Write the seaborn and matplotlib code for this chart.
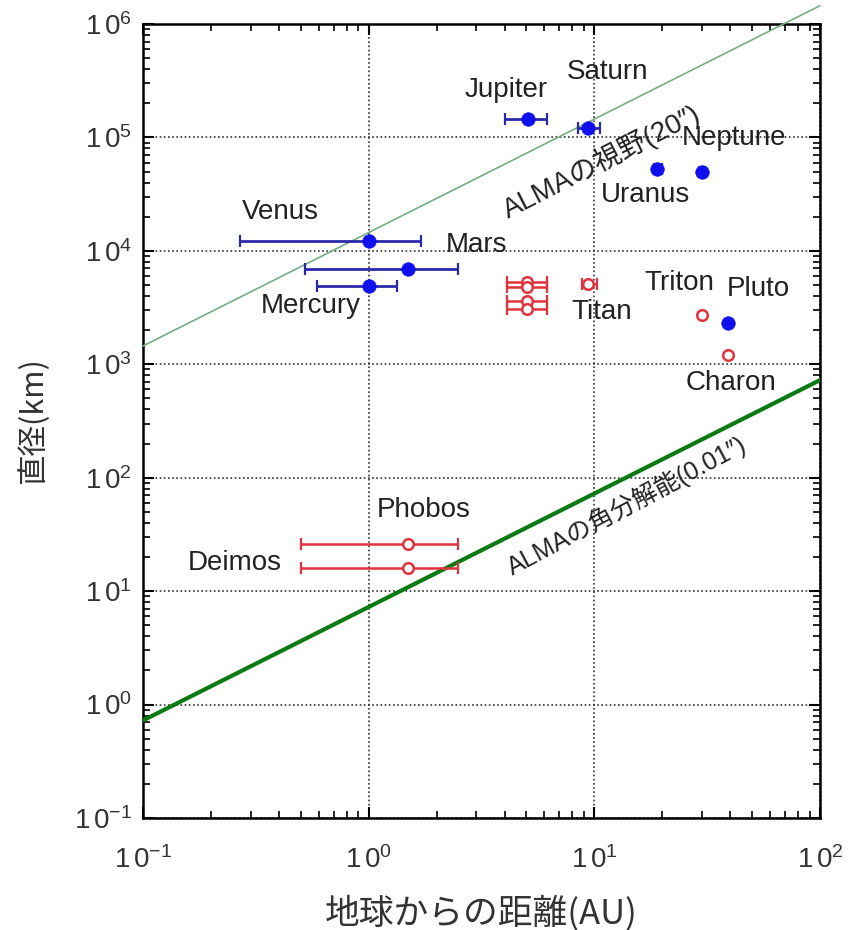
import numpy as np
import pandas as pd
import matplotlib
matplotlib.use("Agg")
import matplotlib.pyplot as plt
from matplotlib.ticker import FuncFormatter
import seaborn as sns
import warnings
warnings.filterwarnings("ignore")

# planets: distance from Earth (AU), diameter (km), distance range (AU)
planet_names = ['Mercury', 'Venus', 'Mars', 'Jupiter', 'Saturn', 'Uranus', 'Neptune', 'Pluto']
planet_dist = [1.0, 1.0, 1.5, 5.1, 9.4, 19.0, 30.0, 39.0]
planet_diam = [4900, 12200, 6900, 145000, 121000, 53000, 50000, 2300]
planet_near = [0.59, 0.27, 0.52, 4.0, 8.5, 18.3, 29.2, 39.0]
planet_far = [1.33, 1.70, 2.50, 6.2, 10.6, 20.0, 31.0, 39.0]

# satellites
moon_names = ['Io', 'Europa', 'Ganymede', 'Callisto', 'Titan', 'Triton', 'Charon', 'Phobos', 'Deimos']
moon_dist = [5.05, 5.05, 5.05, 5.05, 9.4, 30.0, 39.0, 1.5, 1.5]
moon_diam = [3600, 3100, 5300, 4800, 5150, 2700, 1200, 26, 16]
moon_near = [4.1, 4.1, 4.1, 4.1, 8.8, 30.0, 39.0, 0.5, 0.5]
moon_far = [6.2, 6.2, 6.2, 6.2, 10.3, 30.0, 39.0, 2.5, 2.5]

# ALMA lines: field of view 20" and resolution 0.01"
line_dist = [0.1, 100.0]
AU_KM = 1.496e8
FOV_ARCSEC = 20.0
RES_ARCSEC = 0.01

planets = pd.DataFrame({'name': planet_names, 'dist': planet_dist, 'diam': planet_diam,
                        'near': planet_near, 'far': planet_far})
moons = pd.DataFrame({'name': moon_names, 'dist': moon_dist, 'diam': moon_diam,
                      'near': moon_near, 'far': moon_far})
lines = pd.DataFrame({'dist': line_dist})
lines['fov'] = lines['dist'] * AU_KM * FOV_ARCSEC / 206265.0
lines['res'] = lines['dist'] * AU_KM * RES_ARCSEC / 206265.0

sns.set_theme(style='ticks')
plt.rcParams['font.family'] = ['Liberation Sans', 'Noto Sans CJK JP', 'DejaVu Sans']
plt.rcParams['mathtext.fontset'] = 'custom'
plt.rcParams['mathtext.rm'] = 'Liberation Sans'
plt.rcParams['mathtext.it'] = 'Liberation Sans:italic'
plt.rcParams['mathtext.bf'] = 'Liberation Sans:bold'

fig = plt.figure(figsize=(8.57, 9.30), dpi=100)
ax = fig.add_axes([0.1669, 0.1204, 0.7899, 0.8538])
ax.set_xscale('log')
ax.set_yscale('log')
ax.set_xlim(0.1, 100)
ax.set_ylim(0.1, 1e6)

blue = '#1010ee'
navy = '#2a2aa8'
red = '#e2323c'

# lines
sns.lineplot(data=lines, x='dist', y='fov', ax=ax, color='#74ad86', lw=1.2, clip_on=False, zorder=3)
sns.lineplot(data=lines, x='dist', y='res', ax=ax, color='#0b7a12', lw=3.0, zorder=3)

# error bars
ax.errorbar(planets['dist'], planets['diam'],
            xerr=[planets['dist'] - planets['near'], planets['far'] - planets['dist']],
            fmt='none', ecolor=navy, elinewidth=2.0, capsize=4, capthick=1.6, zorder=4)
ax.errorbar(moons['dist'], moons['diam'],
            xerr=[moons['dist'] - moons['near'], moons['far'] - moons['dist']],
            fmt='none', ecolor=red, elinewidth=1.8, capsize=4, capthick=1.6, zorder=4)

sns.scatterplot(data=planets, x='dist', y='diam', ax=ax, color=blue, edgecolor=blue,
                s=95, linewidth=0.5, zorder=5)
sns.scatterplot(data=moons, x='dist', y='diam', ax=ax, color='white', edgecolor=red,
                s=58, linewidth=1.8, zorder=5)

# object labels
label_kw = dict(fontsize=20, color='#222222', ha='center', va='center', zorder=6)
ax.text(4.06, 2.62e5, 'Jupiter', **label_kw)
ax.text(11.4, 3.78e5, 'Saturn', **label_kw)
ax.text(41.5, 9.9e4, 'Neptune', **label_kw)
ax.text(16.9, 3.1e4, 'Uranus', **label_kw)
ax.text(0.405, 2.2e4, 'Venus', **label_kw)
ax.text(3.02, 1.12e4, 'Mars', **label_kw)
ax.text(0.555, 3260, 'Mercury', **label_kw)
ax.text(10.8, 2885, 'Titan', **label_kw)
ax.text(23.7, 5200, 'Triton', **label_kw)
ax.text(53.1, 4600, 'Pluto', **label_kw)
ax.text(40.3, 682, 'Charon', **label_kw)
ax.text(1.76, 51.8, 'Phobos', **label_kw)
ax.text(0.256, 17.7, 'Deimos', **label_kw)

ax.text(10.7, 6.1e4, 'ALMAの視野(20″)', fontsize=20, color='#222222', rotation=27,
        rotation_mode='anchor', ha='center', va='center', zorder=6)
ax.text(13.9, 57, 'ALMAの角分解能(0.01″)', fontsize=18, color='#222222', rotation=28,
        rotation_mode='anchor', ha='center', va='center', zorder=6)

# grid and ticks
ax.grid(True, which='major', color='#333333', linestyle=(0, (1, 1.5)), linewidth=1.2)
ax.tick_params(which='both', direction='in', top=True, right=True, colors='black')
ax.tick_params(which='major', length=8, width=1.5, labelsize=20)
ax.tick_params(axis='x', which='major', pad=20)
ax.tick_params(axis='y', which='major', pad=8)
ax.tick_params(which='minor', length=5, width=1.2)
ax.set_yticks([10.0 ** k for k in range(-1, 7)])
ax.set_xticks([10.0 ** k for k in range(-1, 3)])
pow_fmt = FuncFormatter(lambda v, pos: r'$\mathdefault{1\,0^{%d}}$' % int(round(np.log10(v))))
ax.xaxis.set_major_formatter(pow_fmt)
ax.yaxis.set_major_formatter(pow_fmt)
for s in ax.spines.values():
    s.set_linewidth(1.8)
    s.set_color('black')
for t in ax.get_xticklabels() + ax.get_yticklabels():
    t.set_color('#333333')

ax.set_xlabel('地球からの距離(AU)', fontsize=25, color='#333333', labelpad=16,
              family=['Noto Sans CJK JP', 'DejaVu Sans'])
ax.set_ylabel('直径(km)', fontsize=22, color='#333333', labelpad=18,
              family=['Noto Sans CJK JP', 'DejaVu Sans'])

fig.savefig('out.png', dpi=100)
